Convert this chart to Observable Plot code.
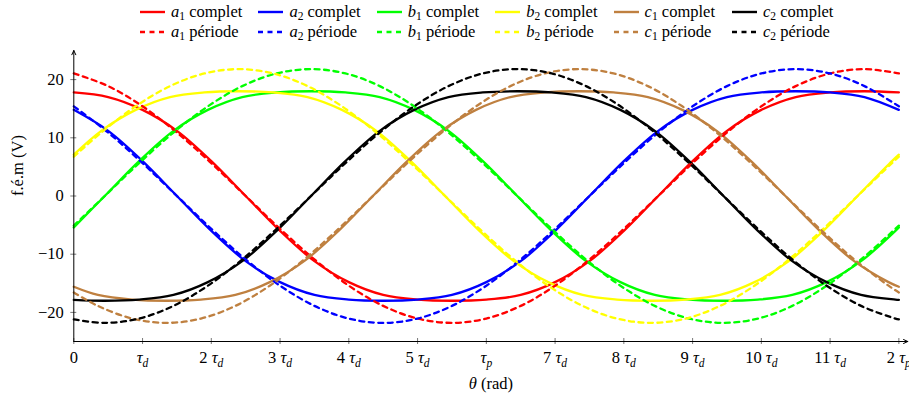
<!DOCTYPE html>
<html><head><meta charset="utf-8">
<script src="https://cdn.jsdelivr.net/npm/d3@7"></script>
<script src="https://cdn.jsdelivr.net/npm/@observablehq/plot@0.6"></script>
<style>
html,body{margin:0;padding:0;overflow:hidden;background:#fff;}
body{font-family:"Liberation Serif",serif;color:#000;}
#legend{position:relative;width:909px;height:45px;font-family:"Liberation Serif",serif;}
.item{position:absolute;display:flex;align-items:center;font-size:16.5px;white-space:nowrap;height:20px;line-height:20px;}
.item svg{margin-right:6px;}
.item sub{font-size:70%;vertical-align:-0.3em;line-height:0;}
#chart svg, #chart svg text{font-family:"Liberation Serif",serif !important;}
</style></head><body>
<div id="legend"></div>
<div id="chart"></div>
<script>
// ---- Data ----
const thetaA  = [0,0.5,1,1.5,2,2.5,3,3.5,4,4.5,5,5.5,6,6.5,7,7.5,8,8.5,9,9.5,10,10.5,11,11.5,12];
const thetaB2 = [0,0.4,0.9,1.4,1.9,2.4,2.9,3.4,3.9,4.4,4.9,5.4,5.9,6.4,6.9,7.4,7.9,8.4,8.9,9.4,9.9,10.4,10.9,11.4,11.9,12];
const thetaBC = [0,0.45,0.95,1.45,1.95,2.45,2.95,3.45,3.95,4.45,4.95,5.45,5.95,6.45,6.95,7.45,7.95,8.45,8.95,9.45,9.95,10.45,10.95,11.45,11.95,12];
const thetaC1 = [0,0.35,0.85,1.35,1.85,2.35,2.85,3.35,3.85,4.35,4.85,5.35,5.85,6.35,6.85,7.35,7.85,8.35,8.85,9.35,9.85,10.35,10.85,11.35,11.85,12];

const a1Complet = [17.8,17.0,14.8,11.2,6.0,0,-6.0,-11.2,-14.8,-17.0,-17.8,-18.0,-17.8,-17.0,-14.8,-11.2,-6.0,0,6.0,11.2,14.8,17.0,17.8,18.0,17.8];
const a1Periode = [21.06,18.88,15.41,10.9,5.64,0,-5.64,-10.9,-15.41,-18.88,-21.06,-21.8,-21.06,-18.88,-15.41,-10.9,-5.64,0,5.64,10.9,15.41,18.88,21.06,21.8,21.06];
const a2Complet = [14.8,11.2,6.0,0,-6.0,-11.2,-14.8,-17.0,-17.8,-18.0,-17.8,-17.0,-14.8,-11.2,-6.0,0,6.0,11.2,14.8,17.0,17.8,18.0,17.8,17.0,14.8];
const a2Periode = [15.41,10.9,5.64,0,-5.64,-10.9,-15.41,-18.88,-21.06,-21.8,-21.06,-18.88,-15.41,-10.9,-5.64,0,5.64,10.9,15.41,18.88,21.06,21.8,21.06,18.88,15.41];
const b1Complet = [-5.4,0,6.0,11.2,14.8,17.0,17.8,18.0,17.8,17.0,14.8,11.2,6.0,0,-6.0,-11.2,-14.8,-17.0,-17.8,-18.0,-17.8,-17.0,-14.8,-11.2,-6.0,-5.4];
const b1Periode = [-5.09,0,5.64,10.9,15.41,18.88,21.06,21.8,21.06,18.88,15.41,10.9,5.64,0,-5.64,-10.9,-15.41,-18.88,-21.06,-21.8,-21.06,-18.88,-15.41,-10.9,-5.64,-5.09];
const b2Complet = [7.1,11.2,14.8,17.0,17.8,18.0,17.8,17.0,14.8,11.2,6.0,0,-6.0,-11.2,-14.8,-17.0,-17.8,-18.0,-17.8,-17.0,-14.8,-11.2,-6.0,0,6.0,7.1];
const b2Periode = [6.74,10.9,15.41,18.88,21.06,21.8,21.06,18.88,15.41,10.9,5.64,0,-5.64,-10.9,-15.41,-18.88,-21.06,-21.8,-21.06,-18.88,-15.41,-10.9,-5.64,0,5.64,6.74];
const c1Complet = [-15.6,-17.0,-17.8,-18.0,-17.8,-17.0,-14.8,-11.2,-6.0,0,6.0,11.2,14.8,17.0,17.8,18.0,17.8,17.0,14.8,11.2,6.0,0,-6.0,-11.2,-14.8,-15.6];
const c1Periode = [-16.58,-18.88,-21.06,-21.8,-21.06,-18.88,-15.41,-10.9,-5.64,0,5.64,10.9,15.41,18.88,21.06,21.8,21.06,18.88,15.41,10.9,5.64,0,-5.64,-10.9,-15.41,-16.58];
const c2Complet = [-17.85,-18.0,-17.8,-17.0,-14.8,-11.2,-6.0,0,6.0,11.2,14.8,17.0,17.8,18.0,17.8,17.0,14.8,11.2,6.0,0,-6.0,-11.2,-14.8,-17.0,-17.8,-17.85];
const c2Periode = [-21.2,-21.8,-21.06,-18.88,-15.41,-10.9,-5.64,0,5.64,10.9,15.41,18.88,21.06,21.8,21.06,18.88,15.41,10.9,5.64,0,-5.64,-10.9,-15.41,-18.88,-21.06,-21.2];

const phaseNames  = ["a1","a2","b1","b2","c1","c2"];
const phaseColors = ["#ff0000","#0000ff","#00ff00","#ffff00","#bf8040","#000000"];
const xTicks = [0,1,2,3,4,5,6,7,8,9,10,11,12];
const xTickLabels = ["0","τ_d","2 τ_d","3 τ_d","4 τ_d","5 τ_d","τ_p","7 τ_d","8 τ_d","9 τ_d","10 τ_d","11 τ_d","2 τ_p"];
const yTicks = [-20,-10,0,10,20];
const xDomain = [0, 12.13];
const yDomain = [-25, 25];

const seriesTheta   = [thetaA, thetaA, thetaBC, thetaB2, thetaC1, thetaBC];
const seriesComplet = [a1Complet, a2Complet, b1Complet, b2Complet, c1Complet, c2Complet];
const seriesPeriode = [a1Periode, a2Periode, b1Periode, b2Periode, c1Periode, c2Periode];

const FONT = '"Liberation Serif", serif';

// ---- Legend ----
const legend = document.getElementById("legend");
const legendX0 = 140, legendStep = 118.4;
phaseNames.forEach((n, i) => {
  [["complet", null, 2], ["période", "5,4.5", 22]].forEach(([word, dash, top]) => {
    const it = document.createElement("div");
    it.className = "item";
    it.style.left = (legendX0 + i * legendStep) + "px";
    it.style.top = top + "px";
    it.innerHTML = `<svg width="25" height="6"><line x1="0" y1="3" x2="25" y2="3" stroke="${phaseColors[i]}" stroke-width="2.4" ${dash ? `stroke-dasharray="${dash}"` : ""}/></svg><span><i>${n[0]}</i><sub>${n[1]}</sub> ${word}</span>`;
    legend.appendChild(it);
  });
});

// ---- Chart ----
const lineMarks = [];
const mkRows = (th, vals) => th.map((t, j) => ({theta: t, v: vals[j]}));
seriesComplet.forEach((vals, i) => {
  lineMarks.push(Plot.line(mkRows(seriesTheta[i], vals), {x: "theta", y: "v", stroke: phaseColors[i], strokeWidth: 2.3, curve: "catmull-rom"}));
});
seriesPeriode.forEach((vals, i) => {
  lineMarks.push(Plot.line(mkRows(seriesTheta[i], vals), {x: "theta", y: "v", stroke: phaseColors[i], strokeWidth: 2.3, strokeDasharray: "5,4.5", curve: "catmull-rom"}));
});

const chart = Plot.plot({
  width: 909, height: 362,
  marginTop: 5, marginBottom: 66, marginLeft: 73.3, marginRight: 1.7,
  x: {domain: xDomain, label: null},
  y: {domain: yDomain, label: null},
  style: {fontFamily: FONT, fontSize: "16.5px", color: "#000", background: "#fff", overflow: "hidden"},
  marks: [
    ...lineMarks,
    Plot.axisX(xTicks, {tickSize: 6, dy: -3, tickFormat: () => "", label: null, stroke: "#555", strokeWidth: 0.8}),
    Plot.axisY(yTicks, {tickSize: 6, dx: 3, tickFormat: () => "", label: null, stroke: "#555", strokeWidth: 0.8}),
    Plot.axisX(xTicks, {tickSize: 0, tickPadding: 10, tickFormat: d => xTickLabels[xTicks.indexOf(d)], label: null, fontSize: 16.5}),
    Plot.axisY(yTicks, {tickSize: 0, tickPadding: 10, label: null, fontSize: 16.5}),
    Plot.arrow([{x1: xDomain[0], x2: xDomain[1], y1: yDomain[0], y2: yDomain[0]}], {x1: "x1", x2: "x2", y1: "y1", y2: "y2", stroke: "#000", strokeWidth: 1, headLength: 7, headAngle: 50}),
    Plot.arrow([{x1: xDomain[0], x2: xDomain[0], y1: yDomain[0], y2: yDomain[1]}], {x1: "x1", x2: "x2", y1: "y1", y2: "y2", stroke: "#000", strokeWidth: 1, headLength: 7, headAngle: 50}),
    Plot.text(["f.é.m (V)"], {frameAnchor: "left", dx: -56, rotate: -90, text: d => d, fontSize: 16.5}),
    Plot.text(["θ (rad)"], {frameAnchor: "bottom", dy: 47, text: d => d, fontSize: 16.5})
  ]
});
document.getElementById("chart").appendChild(chart);

// rich text: italic τ / θ, subscripts
d3.select(chart).selectAll("text").each(function() {
  const s = this.textContent;
  const t = d3.select(this);
  const m = s.match(/^(\d+ )?τ_(\w)$/);
  if (m) {
    t.text(null);
    if (m[1]) t.append("tspan").text(m[1]);
    t.append("tspan").attr("font-style", "italic").text("τ");
    t.append("tspan").attr("font-style", "italic").attr("font-size", "0.7em").attr("dy", "0.3em").text(m[2]);
  } else if (s === "θ (rad)") {
    t.text(null);
    t.append("tspan").attr("font-style", "italic").text("θ");
    t.append("tspan").text(" (rad)");
  }
});
</script>
</body></html>
